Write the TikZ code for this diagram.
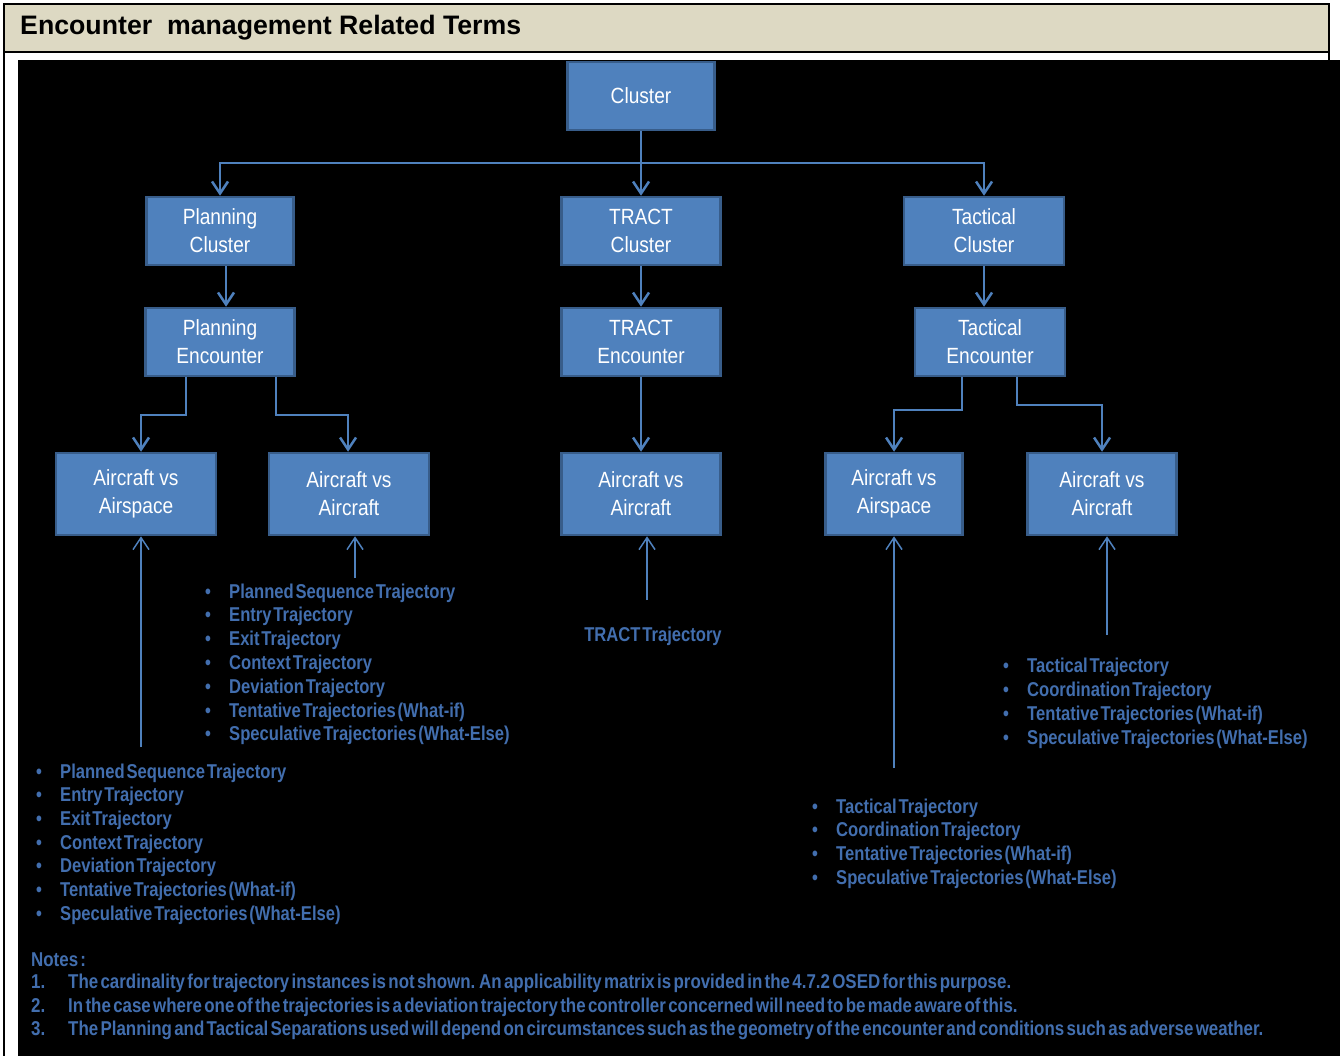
\documentclass[tikz,border=0pt]{standalone}
\usepackage{fontspec}
\setmainfont{Liberation Sans}
\newfontfamily\boxfont[FakeStretch=0.87]{Liberation Sans}
\newfontfamily\listfont[FakeStretch=0.83,WordSpace=0.4]{Liberation Sans}
\newfontfamily\notefont[FakeStretch=0.845,WordSpace=0.5]{Liberation Sans}
\usetikzlibrary{arrows.meta}
\definecolor{boxblue}{RGB}{79,129,189}
\definecolor{boxline}{RGB}{56,93,138}
\definecolor{listblue}{RGB}{66,110,174}
\definecolor{titlebg}{RGB}{221,217,195}
\tikzset{
  blk/.style={draw=boxline, fill=boxblue, line width=2.5pt, text=white, align=center, inner sep=0pt, font=\boxfont\fontsize{22}{28}\selectfont},
  conn/.style={draw=boxblue, line width=2.5pt, -{Straight Barb[length=12pt,width=16pt]}},
  feed/.style={draw=boxblue, line width=1.5pt, -{Straight Barb[length=12pt,width=16pt]}},
  item/.style={anchor=west, inner sep=0pt, text=listblue, font=\listfont\bfseries\fontsize{20}{24}\selectfont},
  noteitem/.style={item, font=\notefont\bfseries\fontsize{20}{24}\selectfont},
}
\newcommand{\bul}{\llap{\makebox[24pt][l]{\textbullet}}}
\begin{document}
\begin{tikzpicture}[x=1pt,y=-1pt]
\useasboundingbox (0,0) rectangle (1340,1056);
% frame and title
\draw[fill=titlebg, line width=2pt] (4,4) rectangle (1329,52);
\draw[line width=2pt] (4,52) -- (4,1056);
\draw[line width=2pt] (1329,52) -- (1329,60);
\fill[black] (18,60) rectangle (1340,1056);
\node[anchor=west, inner sep=0pt, font=\bfseries\fontsize{26.7}{30}\selectfont] (title) at (20,28) {Encounter\ \ management Related Terms};
% boxes
\node[blk, minimum width=147pt, minimum height=68pt] (cluster) at (641,96) {Cluster};
\node[blk, minimum width=147pt, minimum height=68pt] (plancl) at (220,231) {Planning\\Cluster};
\node[blk, minimum width=159pt, minimum height=68pt] (tractcl) at (641,231) {TRACT\\Cluster};
\node[blk, minimum width=160pt, minimum height=68pt] (taccl) at (984,231) {Tactical\\Cluster};
\node[blk, minimum width=149pt, minimum height=68pt] (planenc) at (220,342) {Planning\\Encounter};
\node[blk, minimum width=159pt, minimum height=68pt] (tractenc) at (641,342) {TRACT\\Encounter};
\node[blk, minimum width=150pt, minimum height=68pt] (tacenc) at (990,342) {Tactical\\Encounter};
\node[blk, minimum width=160pt, minimum height=82pt] (planasp) at (136,494) {Aircraft vs\\Airspace};
\node[blk, minimum width=160pt, minimum height=82pt] (planacf) at (349,494) {Aircraft vs\\Aircraft};
\node[blk, minimum width=159pt, minimum height=82pt] (tractacf) at (641,494) {Aircraft vs\\Aircraft};
\node[blk, minimum width=137pt, minimum height=82pt] (tacasp) at (894,494) {Aircraft vs\\Airspace};
\node[blk, minimum width=149pt, minimum height=82pt] (tacacf) at (1102,494) {Aircraft vs\\Aircraft};
% tree connectors
\coordinate (bus) at (641,163);
\draw[conn] (cluster) -- (tractcl);
\draw[conn] (bus) -| (plancl.north);
\draw[conn] (bus) -| (taccl.north);
\draw[conn] ([xshift=6pt]plancl.south) -- ([xshift=6pt]planenc.north);
\draw[conn] (tractcl) -- (tractenc);
\draw[conn] (taccl) -- (taccl |- tacenc.north);
\draw[conn] (186,0 |- planenc.south) -- (186,415) -| (141,0 |- planasp.north);
\draw[conn] (276,0 |- planenc.south) -- (276,415) -| (348,0 |- planacf.north);
\draw[conn] (tractenc) -- (tractacf);
\draw[conn] (962,0 |- tacenc.south) -- (962,410) -| (tacasp.north);
\draw[conn] (1017,0 |- tacenc.south) -- (1017,405) -| (tacacf.north);
% trajectory feeds
\coordinate (planasp-src) at (141,747);
\coordinate (planacf-src) at (355,578);
\coordinate (tractacf-src) at (647,600);
\coordinate (tacasp-src) at (894,768);
\coordinate (tacacf-src) at (1107,635);
\draw[feed] (planasp-src) -- (planasp-src |- planasp.south);
\draw[feed] (planacf-src) -- (planacf-src |- planacf.south);
\draw[feed] (tractacf-src) -- (tractacf-src |- tractacf.south);
\draw[feed] (tacasp-src) -- (tacasp-src |- tacasp.south);
\draw[feed] (tacacf-src) -- (tacacf-src |- tacacf.south);
% trajectory lists
\foreach \t [count=\i] in {Planned Sequence Trajectory, Entry Trajectory, Exit Trajectory, Context Trajectory, Deviation Trajectory, Tentative Trajectories (What-if), Speculative Trajectories (What-Else)}
  \node[item] (pacf-\i) at (229,{593+23.8*(\i-1)}) {\bul\t};
\foreach \t [count=\i] in {Planned Sequence Trajectory, Entry Trajectory, Exit Trajectory, Context Trajectory, Deviation Trajectory, Tentative Trajectories (What-if), Speculative Trajectories (What-Else)}
  \node[item] (pasp-\i) at (60,{773+23.7*(\i-1)}) {\bul\t};
\node[item, anchor=center] (tracttraj) at (653,636) {TRACT Trajectory};
\foreach \t [count=\i] in {Tactical Trajectory, Coordination Trajectory, Tentative Trajectories (What-if), Speculative Trajectories (What-Else)}
  \node[item] (tacf-\i) at (1027,{667+24*(\i-1)}) {\bul\t};
\foreach \t [count=\i] in {Tactical Trajectory, Coordination Trajectory, Tentative Trajectories (What-if), Speculative Trajectories (What-Else)}
  \node[item] (tasp-\i) at (836,{808+23.8*(\i-1)}) {\bul\t};
% notes
\node[noteitem] (notes) at (31,960) {Notes :};
\foreach \t [count=\i] in {{The cardinality for trajectory instances is not shown. An applicability matrix is provided in the 4.7.2 OSED for this purpose.}, {In the case where one of the trajectories is a deviation trajectory the controller concerned will need to be made aware of this.}, {The Planning and Tactical Separations used will depend on circumstances such as the geometry of the encounter and conditions such as adverse weather.}}
  \node[noteitem] (note-\i) at (68,{960+23.6*\i}) {\llap{\makebox[37pt][l]{\i.}}\t};
\end{tikzpicture}
\end{document}
